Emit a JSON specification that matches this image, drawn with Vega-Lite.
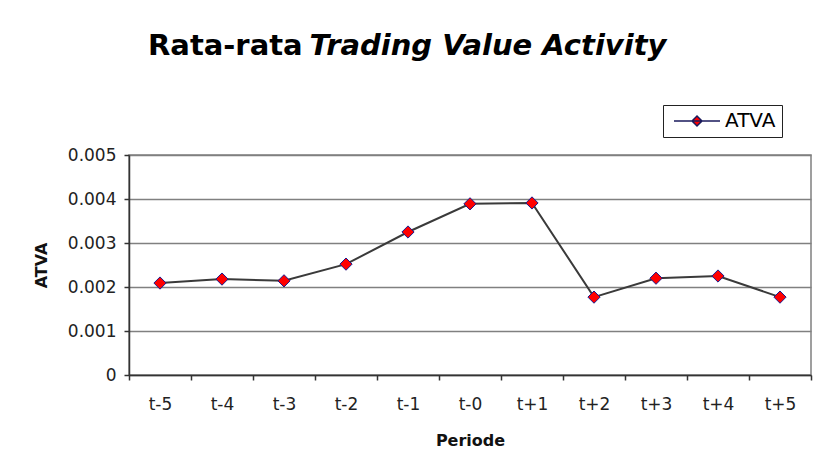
{
  "$schema": "https://vega.github.io/schema/vega-lite/v6.json",
  "width": 682,
  "height": 220,
  "autosize": {"type": "none"},
  "padding": {"left": 129, "top": 155, "right": 15, "bottom": 101},
  "background": "white",
  "title": {
    "text": "Rata-rata",
    "subtitle": "\u200b\u00a0\u00a0\u00a0\u00a0\u00a0\u00a0\u00a0\u00a0\u00a0\u00a0\u00a0\u00a0\u00a0\u00a0\u00a0\u00a0Trading Value Activity",
    "anchor": "start",
    "frame": "group",
    "dx": 19,
    "offset": 44,
    "font": "DejaVu Sans",
    "fontSize": 29,
    "fontWeight": "bold",
    "color": "black",
    "subtitleFont": "DejaVu Sans",
    "subtitleFontSize": 29,
    "subtitleFontWeight": "bold",
    "subtitleFontStyle": "italic",
    "subtitleColor": "black",
    "subtitlePadding": -29
  },
  "data": {
    "values": [
      {"Periode": "t-5", "ATVA": 0.00209},
      {"Periode": "t-4", "ATVA": 0.00218},
      {"Periode": "t-3", "ATVA": 0.00214},
      {"Periode": "t-2", "ATVA": 0.00252},
      {"Periode": "t-1", "ATVA": 0.00325},
      {"Periode": "t-0", "ATVA": 0.00389},
      {"Periode": "t+1", "ATVA": 0.00391},
      {"Periode": "t+2", "ATVA": 0.00177},
      {"Periode": "t+3", "ATVA": 0.0022},
      {"Periode": "t+4", "ATVA": 0.00225},
      {"Periode": "t+5", "ATVA": 0.00177}
    ]
  },
  "encoding": {
    "x": {
      "field": "Periode",
      "type": "ordinal",
      "sort": null,
      "scale": {"type": "band", "paddingInner": 0, "paddingOuter": 0},
      "axis": {
        "title": "Periode",
        "labelAngle": 0,
        "tickBand": "extent",
        "tickSize": 5,
        "labelPadding": 16,
        "grid": false,
        "titlePadding": 20
      }
    },
    "y": {
      "field": "ATVA",
      "type": "quantitative",
      "scale": {"domain": [0, 0.005], "nice": false},
      "axis": {
        "title": "ATVA",
        "values": [0, 0.001, 0.002, 0.003, 0.004, 0.005],
        "format": ".3~f",
        "tickSize": 5,
        "labelPadding": 8,
        "grid": true,
        "titlePadding": 18
      }
    }
  },
  "layer": [
    {
      "mark": {"type": "line", "color": "#3a3a3a", "strokeWidth": 2}
    },
    {
      "mark": {"type": "point", "shape": "diamond", "filled": true, "size": 150, "stroke": "#1a1a8c", "strokeWidth": 1, "opacity": 1},
      "encoding": {
        "color": {
          "datum": "ATVA",
          "scale": {"range": ["#ff0000"]},
          "legend": {
            "title": null,
            "orient": "none",
            "legendX": 534,
            "legendY": -50,
            "strokeColor": "#222222",
            "padding": 6,
            "symbolType": "M-4.6,0L4.6,0M-1,0L0,-1L1,0L0,1Z",
            "symbolSize": 100,
            "symbolStrokeColor": "#1a1a5c",
            "symbolStrokeWidth": 1.5,
            "symbolOffset": 18,
            "labelOffset": 18,
            "labelFont": "DejaVu Sans",
            "labelFontSize": 20,
            "labelColor": "black"
          }
        }
      }
    }
  ],
  "config": {
    "font": "DejaVu Sans",
    "view": {"stroke": "#808080", "strokeWidth": 1.5},
    "axis": {
      "labelFont": "DejaVu Sans",
      "labelFontSize": 17,
      "labelColor": "#222222",
      "titleFont": "DejaVu Sans",
      "titleFontSize": 16,
      "titleFontWeight": "bold",
      "titleColor": "#111111",
      "domainColor": "#333333",
      "domainWidth": 1.5,
      "tickColor": "#333333",
      "tickWidth": 1.5,
      "gridColor": "#808080",
      "gridWidth": 1.5,
      "gridOpacity": 1
    }
  }
}
